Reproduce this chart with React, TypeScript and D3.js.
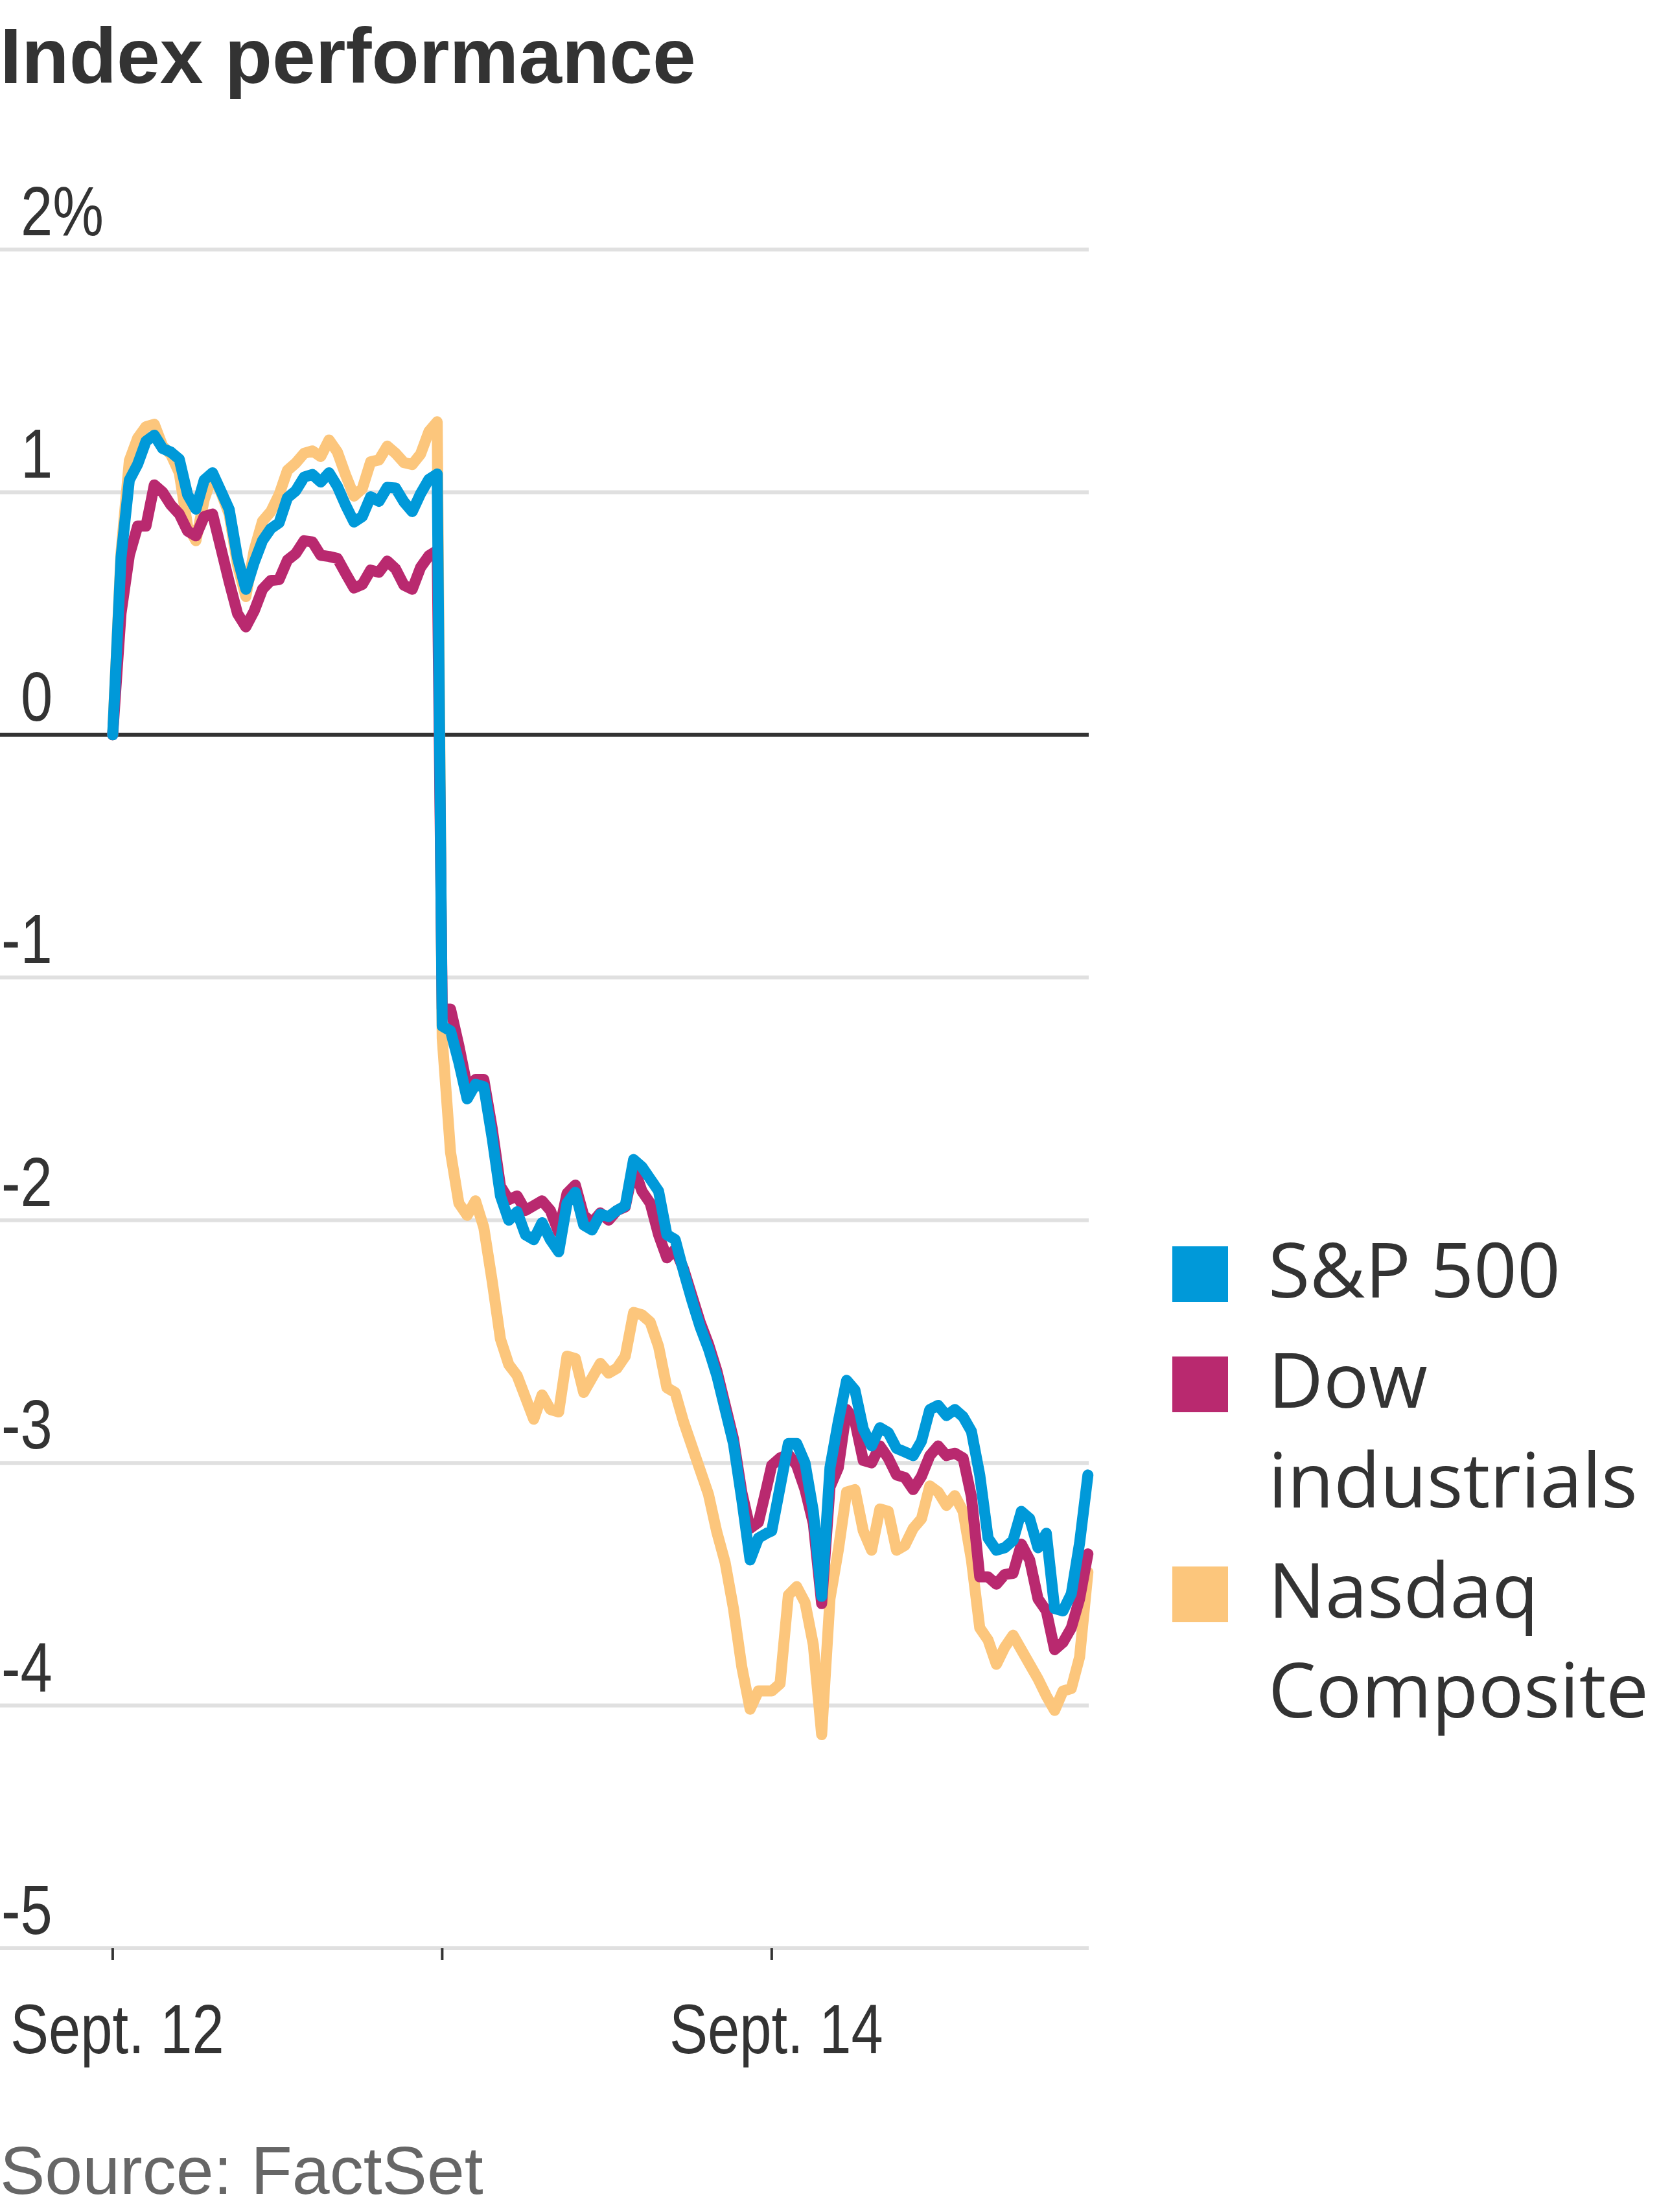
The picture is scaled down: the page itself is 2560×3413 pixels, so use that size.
import * as d3 from "d3";

// minutes after the 9:30 open, one reading every ten minutes
const sessionMinutes = [
  0, 10, 20, 30, 40, 50, 60, 70, 80, 90, 100, 110, 120, 130, 140, 150, 160, 170, 180, 190,
  200, 210, 220, 230, 240, 250, 260, 270, 280, 290, 300, 310, 320, 330, 340, 350, 360, 370, 380, 390,
];

const tradingDays = ["Sept. 12", "Sept. 13", "Sept. 14"];
const dayTickLabels = ["Sept. 12", "", "Sept. 14"];
const yTicks = [2, 1, 0, -1, -2, -3, -4, -5];

// % change since the Sept. 12 open
const spxSept12 = [
  0, 0.73, 1.05, 1.115, 1.21, 1.235, 1.18, 1.165, 1.136, 0.99, 0.93, 1.05, 1.08, 1.005, 0.929, 0.73, 0.6, 0.71, 0.8, 0.85,
  0.874, 0.977, 1.006, 1.062, 1.073, 1.042, 1.08, 1.024, 0.946, 0.877, 0.9, 0.981, 0.962, 1.02, 1.017, 0.96, 0.92, 0.994, 1.053, 1.075,
];
const spxSept13 = [
  -1.2, -1.22, -1.35, -1.5, -1.44, -1.45, -1.66, -1.9, -2.0, -1.965, -2.06, -2.08, -2.01, -2.08, -2.13, -1.93, -1.885, -2.02, -2.04, -1.975,
  -1.985, -1.96, -1.94, -1.75, -1.78, -1.83, -1.88, -2.06, -2.08, -2.21, -2.33, -2.44, -2.53, -2.64, -2.78, -2.92, -3.15, -3.4, -3.31, -3.29,
];
const spxSept14 = [
  -3.28, -3.1, -2.92, -2.92, -3.0, -3.2, -3.55, -3.02, -2.83, -2.66, -2.7, -2.86, -2.93, -2.855, -2.875, -2.94, -2.955, -2.97, -2.91, -2.78,
  -2.763, -2.805, -2.78, -2.81, -2.87, -3.05, -3.31, -3.36, -3.35, -3.32, -3.2, -3.23, -3.35, -3.29, -3.6, -3.61, -3.54, -3.33, -3.05,
];

const dowSept12 = [
  0, 0.5, 0.74, 0.86, 0.86, 1.03, 1.0, 0.947, 0.91, 0.84, 0.82, 0.9, 0.91, 0.77, 0.63, 0.5, 0.445, 0.51, 0.6, 0.636,
  0.64, 0.72, 0.747, 0.8, 0.795, 0.74, 0.735, 0.727, 0.665, 0.605, 0.62, 0.679, 0.67, 0.716, 0.684, 0.617, 0.6, 0.69, 0.738, 0.76,
];
const dowSept13 = [
  -1.13, -1.13, -1.28, -1.45, -1.42, -1.42, -1.62, -1.86, -1.915, -1.9, -1.96, -1.94, -1.92, -1.96, -2.05, -1.89, -1.855, -1.98, -2.01, -1.97,
  -2.0, -1.96, -1.945, -1.78, -1.88, -1.93, -2.06, -2.155, -2.12, -2.2, -2.31, -2.42, -2.51, -2.62, -2.76, -2.9, -3.12, -3.27, -3.245, -3.1,
];
const dowSept14 = [
  -3.01, -2.98, -2.965, -3.01, -3.11, -3.25, -3.58, -3.1, -3.02, -2.78, -2.83, -2.99, -3.0, -2.93, -2.98, -3.05, -3.06, -3.11, -3.055, -2.97,
  -2.93, -2.97, -2.96, -2.98, -3.14, -3.47, -3.47, -3.5, -3.46, -3.455, -3.335, -3.4, -3.56, -3.61, -3.77, -3.74, -3.68, -3.56, -3.375,
];

const nasdaqSept12 = [
  0, 0.75, 1.13, 1.223, 1.27, 1.28, 1.19, 1.155, 1.08, 0.86, 0.8, 0.97, 1.07, 1.0, 0.91, 0.7, 0.57, 0.76, 0.88, 0.92,
  0.99, 1.09, 1.12, 1.16, 1.17, 1.147, 1.215, 1.166, 1.07, 0.984, 1.015, 1.125, 1.133, 1.19, 1.16, 1.122, 1.114, 1.157, 1.25, 1.29,
];
const nasdaqSept13 = [
  -1.25, -1.72, -1.93, -1.98, -1.92, -2.03, -2.25, -2.49, -2.595, -2.64, -2.73, -2.82, -2.72, -2.78, -2.79, -2.56, -2.57, -2.71, -2.65, -2.59,
  -2.63, -2.61, -2.56, -2.38, -2.39, -2.42, -2.52, -2.69, -2.71, -2.83, -2.93, -3.03, -3.13, -3.285, -3.41, -3.6, -3.84, -4.015, -3.94, -3.94,
];
const nasdaqSept14 = [
  -3.94, -3.91, -3.545, -3.51, -3.575, -3.75, -4.12, -3.56, -3.36, -3.12, -3.11, -3.28, -3.36, -3.19, -3.2, -3.36, -3.34, -3.27, -3.23, -3.095,
  -3.12, -3.175, -3.135, -3.2, -3.4, -3.68, -3.73, -3.83, -3.76, -3.71, -3.77, -3.83, -3.89, -3.96, -4.02, -3.94, -3.93, -3.8, -3.45,
];

const series = [
  { key: "nasdaq", label: ["Nasdaq", "Composite"], color: "#fcc67c", days: [nasdaqSept12, nasdaqSept13, nasdaqSept14] },
  { key: "dow", label: ["Dow", "industrials"], color: "#b9296f", days: [dowSept12, dowSept13, dowSept14] },
  { key: "spx", label: ["S&P 500"], color: "#0099d9", days: [spxSept12, spxSept13, spxSept14] },
];
const legendOrder = ["spx", "dow", "nasdaq"];

const WIDTH = 2560;
const HEIGHT = 3413;
const PLOT_RIGHT = 1680;
const SESSION_SPAN = 396; // trading minutes + overnight gap per day slot
const NARROW_X = 0.82; // squeeze Liberation Sans into a narrow face

const SANS = "'Liberation Sans', Arial, sans-serif";
const LEGEND_FONT = "'Open Sans', 'Noto Sans', sans-serif";

type Pt = { t: number; v: number };

const App = () => {
  const x = d3.scaleLinear().domain([-0.342, 2.962]).range([0, PLOT_RIGHT]);
  const y = d3.scaleLinear().domain([-5, 2]).range([3006, 385]);

  const line = d3
    .line<Pt>()
    .x((d) => x(d.t))
    .y((d) => y(d.v));

  const toPoints = (days: number[][]): Pt[] =>
    days.flatMap((vals, di) =>
      vals.map((v, i) => ({ t: di + sessionMinutes[i] / SESSION_SPAN, v })),
    );

  const legendBase = 2002;
  const entryGap = 170;
  const lineGap = 154;
  let cursor = legendBase;
  const legendRows = legendOrder.map((k) => {
    const s = series.find((d) => d.key === k)!;
    const row = { ...s, baseline: cursor };
    cursor += entryGap + (s.label.length - 1) * lineGap;
    return row;
  });

  return (
    <svg
      width={WIDTH}
      height={HEIGHT}
      viewBox={`0 0 ${WIDTH} ${HEIGHT}`}
      style={{ position: "absolute", left: 0, top: 0, background: "#fff" }}
    >
      <text x={0} y={128} fontFamily={SANS} fontWeight="bold" fontSize={120} fill="#333">
        Index performance
      </text>

      <g>
        {yTicks.map((v) => (
          <g key={v}>
            <line
              x1={0}
              x2={PLOT_RIGHT}
              y1={y(v)}
              y2={y(v)}
              stroke={v === 0 ? "#333" : "#e0e0e0"}
              strokeWidth={6}
            />
            <text
              transform={`translate(${v < 0 ? 2 : 32},${y(v) - 22}) scale(${NARROW_X},1)`}
              fontFamily={SANS}
              fontSize={108}
              fill="#333"
            >
              {v === 2 ? "2%" : String(v)}
            </text>
          </g>
        ))}
      </g>

      <g>
        {tradingDays.map((day, i) => (
          <g key={day}>
            <line x1={x(i)} x2={x(i)} y1={y(-5)} y2={y(-5) + 18} stroke="#333" strokeWidth={4} />
            {dayTickLabels[i] && (
              <text
                transform={`translate(${x(i) + 7},3168) scale(${NARROW_X},1)`}
                textAnchor="middle"
                fontFamily={SANS}
                fontSize={108}
                fill="#333"
              >
                {dayTickLabels[i]}
              </text>
            )}
          </g>
        ))}
      </g>

      <g fill="none" strokeWidth={17} strokeLinejoin="round" strokeLinecap="round">
        {series.map((s) => (
          <path key={s.key} d={line(toPoints(s.days)) ?? ""} stroke={s.color} />
        ))}
      </g>

      <g>
        {legendRows.map((r) => (
          <g key={r.key}>
            <rect x={1809} y={r.baseline - 79} width={86} height={86} fill={r.color} />
            {r.label.map((txt, j) => (
              <text
                key={txt}
                x={1957}
                y={r.baseline + j * lineGap}
                fontFamily={LEGEND_FONT}
                fontSize={117}
                fill="#333"
              >
                {txt}
              </text>
            ))}
          </g>
        ))}
      </g>

      <text x={0} y={3385} fontFamily={SANS} fontSize={104} fill="#666">
        Source: FactSet
      </text>
    </svg>
  );
};

export default App;
